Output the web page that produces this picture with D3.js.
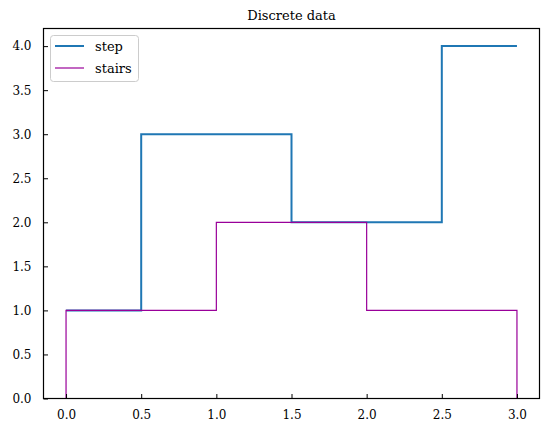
<!DOCTYPE html>
<html>
<head>
<meta charset="utf-8">
<script src="https://cdn.jsdelivr.net/npm/d3@7"></script>
<style>
  body { margin: 0; background: #fff; }
  text { font-family: "DejaVu Serif", serif; fill: #000; }
</style>
</head>
<body>
<div id="chart"></div>
<script>
// step series (where = post)
var stepX = [0, 0.5, 1, 1.5, 2, 2.5, 3];
var stepY = [1, 3, 3, 2, 2, 4, 4];

// stairs series: edges + values, baseline 0
var stairEdges = [0, 1, 2, 3];
var stairValues = [1, 2, 1];

var xTicks = [0, 0.5, 1, 1.5, 2, 2.5, 3];
var yTicks = [0, 0.5, 1, 1.5, 2, 2.5, 3, 3.5, 4];

var width = 549, height = 433;
// plot area box (window.top is reserved, so use own names)
var pLeft = 43.5, pRight = 539.5, pTop = 28.5, pBottom = 398.5;

var svg = d3.select("#chart").append("svg")
  .attr("width", width)
  .attr("height", height);

var x = d3.scaleLinear().domain([-0.15, 3.15]).range([pLeft, pRight]);
var y = d3.scaleLinear().domain([0, 4.2]).range([pBottom, pTop]);

// title
svg.append("text")
  .attr("x", (pLeft + pRight) / 2)
  .attr("y", 20)
  .attr("text-anchor", "middle")
  .style("font-size", "13px")
  .text("Discrete data");

// stairs line (edges -> points)
var stairPts = [[stairEdges[0], 0]];
stairValues.forEach(function(v, i) {
  stairPts.push([stairEdges[i], v]);
  stairPts.push([stairEdges[i + 1], v]);
});
stairPts.push([stairEdges[stairEdges.length - 1], 0]);

var plot = svg.append("g");

plot.append("path")
  .datum(stepX.map(function(v, i) { return [v, stepY[i]]; }))
  .attr("d", d3.line()
    .x(function(d) { return x(d[0]); })
    .y(function(d) { return y(d[1]); })
    .curve(d3.curveStepAfter))
  .attr("fill", "none")
  .attr("stroke", "#1f77b4")
  .attr("stroke-width", 2);

plot.append("path")
  .datum(stairPts)
  .attr("d", d3.line()
    .x(function(d) { return x(d[0]); })
    .y(function(d) { return y(d[1]); }))
  .attr("fill", "none")
  .attr("stroke", "#990099")
  .attr("stroke-width", 1.2);

// axes (ticks pointing inward)
var xAxis = d3.axisBottom(x).tickValues(xTicks)
  .tickFormat(d3.format(".1f")).tickSizeInner(-4.5).tickSizeOuter(0).tickPadding(12);
var yAxis = d3.axisLeft(y).tickValues(yTicks)
  .tickFormat(d3.format(".1f")).tickSizeInner(-4.5).tickSizeOuter(0).tickPadding(12);

var gx = svg.append("g").attr("transform", "translate(0," + pBottom + ")").call(xAxis);
var gy = svg.append("g").attr("transform", "translate(" + pLeft + ",0)").call(yAxis);
[gx, gy].forEach(function(g) {
  g.select(".domain").remove();
  g.selectAll("text").style("font-family", "'DejaVu Serif', serif").style("font-size", "12px");
  g.selectAll("line").attr("stroke", "#000").attr("stroke-width", 1);
});

// frame
svg.append("rect")
  .attr("x", pLeft).attr("y", pTop)
  .attr("width", pRight - pLeft).attr("height", pBottom - pTop)
  .attr("fill", "none").attr("stroke", "#000").attr("stroke-width", 1.2);

// legend
var legendItems = [
  { name: "step", color: "#1f77b4", w: 2 },
  { name: "stairs", color: "#990099", w: 1.2 }
];
var lg = svg.append("g");
lg.append("rect")
  .attr("x", 50.5).attr("y", 35.5)
  .attr("width", 88).attr("height", 46)
  .attr("rx", 3)
  .attr("fill", "#fff").attr("fill-opacity", 0.8)
  .attr("stroke", "#cccccc");
legendItems.forEach(function(d, i) {
  var yy = 46 + i * 22;
  lg.append("line")
    .attr("x1", 55).attr("x2", 84)
    .attr("y1", yy).attr("y2", yy)
    .attr("stroke", d.color).attr("stroke-width", d.w);
  lg.append("text")
    .attr("x", 95).attr("y", yy + 4.5)
    .style("font-size", "13px")
    .text(d.name);
});
</script>
</body>
</html>
